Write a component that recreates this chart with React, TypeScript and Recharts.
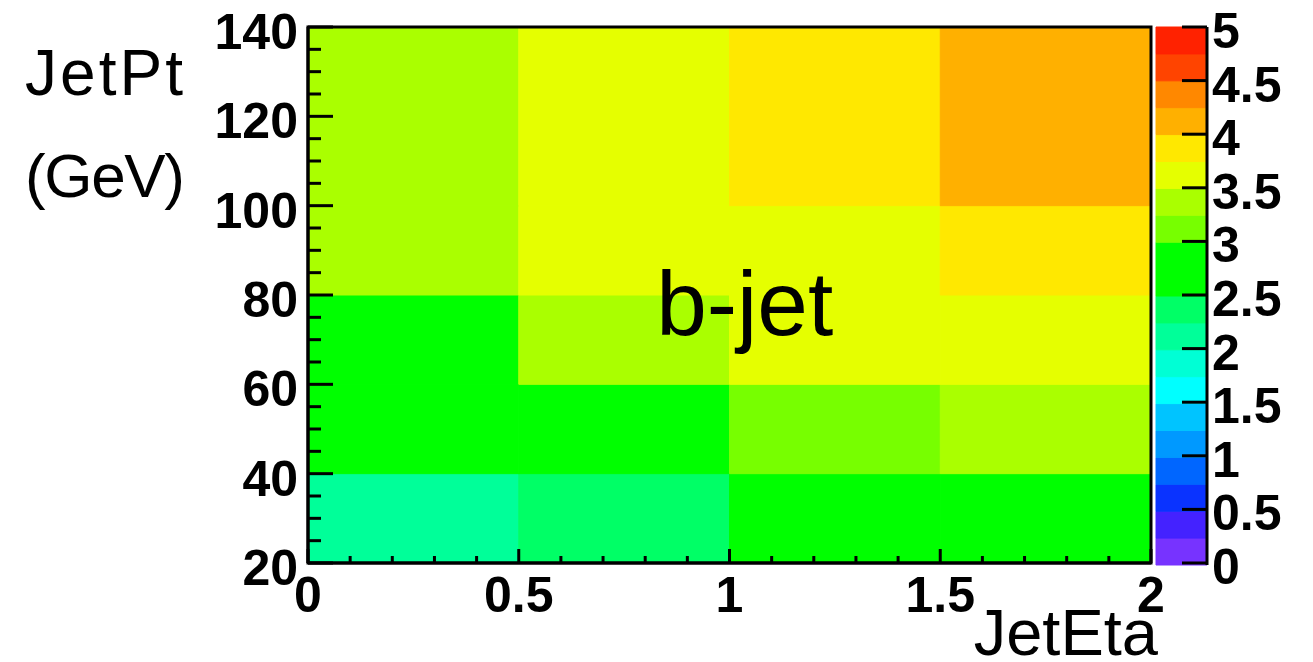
import React from 'react';
import { ComposedChart, XAxis, YAxis, ReferenceArea } from 'recharts';

// Bin edges
const etaEdges = [0, 0.5, 1, 1.5, 2];
const ptEdges = [20, 40, 60, 80, 100, 140];

// Cell values, one array per JetPt bin (columns = JetEta bins)
const pt20to40 = [2.1, 2.4, 2.8, 2.85];
const pt40to60 = [2.9, 2.9, 3.1, 3.3];
const pt60to80 = [2.8, 3.4, 3.6, 3.6];
const pt80to100 = [3.4, 3.6, 3.7, 3.9];
const pt100to140 = [3.4, 3.6, 3.9, 4.1];
const rows = [pt20to40, pt40to60, pt60to80, pt80to100, pt100to140];

// Palette (z levels of the colour bar)
const zLevels = [0, 0.25, 0.5, 0.75, 1, 1.25, 1.5, 1.75, 2, 2.25, 2.5, 2.75, 3, 3.25, 3.5, 3.75, 4, 4.25, 4.5, 4.75];
const zStep = 0.25;
const paletteColors = [
  '#7733ff', '#4422ff', '#0a33ff', '#0066ff', '#0099ff',
  '#00c4ff', '#00ffff', '#00ffd5', '#00ff99', '#00ff66',
  '#00ff00', '#00ff00', '#77ff00', '#aaff00', '#e5ff00',
  '#ffe800', '#ffb000', '#ff8800', '#ff4400', '#ff2200',
];

// Ticks
const xTicks = [0, 0.1, 0.2, 0.3, 0.4, 0.5, 0.6, 0.7, 0.8, 0.9, 1, 1.1, 1.2, 1.3, 1.4, 1.5, 1.6, 1.7, 1.8, 1.9, 2];
const xMajor = [0, 0.5, 1, 1.5, 2];
const xLabels = ['0', '0.5', '1', '1.5', '2'];
const yTicks = [20, 25, 30, 35, 40, 45, 50, 55, 60, 65, 70, 75, 80, 85, 90, 95, 100, 105, 110, 115, 120, 125, 130, 135, 140];
const yMajor = [20, 40, 60, 80, 100, 120, 140];
const zTicks = [0, 0.5, 1, 1.5, 2, 2.5, 3, 3.5, 4, 4.5, 5];
const zLabels = ['0', '0.5', '1', '1.5', '2', '2.5', '3', '3.5', '4', '4.5', '5'];

const tickFont = "'Liberation Sans', Arial, Helvetica, sans-serif";

// gap between the plot frame and the colour-bar axis, in px
const barAxisOffset = 56;

const colorFor = (v: number) => paletteColors[Math.max(0, Math.min(paletteColors.length - 1, Math.floor(v / zStep)))];

const cells = rows.flatMap((row, r) =>
  row.map((value, c) => ({
    x1: etaEdges[c],
    x2: etaEdges[c + 1],
    y1: ptEdges[r],
    y2: ptEdges[r + 1],
    value,
  }))
);

const isIn = (arr: number[], v: number) => arr.some((a) => Math.abs(a - v) < 1e-6);

const MainYTick = (props: any) => {
  const { x, y, payload } = props;
  const v = payload.value;
  const major = isIn(yMajor, v);
  return (
    <g>
      <line x1={x} x2={x + (major ? 25 : 13)} y1={y} y2={y} stroke="#000" strokeWidth={3} />
      {major && (
        <text x={x - 10} y={y + 22} textAnchor="end" fontSize={50} fontWeight="bold" fontFamily={tickFont} fill="#000">
          {String(v)}
        </text>
      )}
    </g>
  );
};

const MainXTick = (props: any) => {
  const { x, y, payload } = props;
  const v = payload.value;
  const idx = xMajor.findIndex((m) => Math.abs(m - v) < 1e-6);
  const major = idx >= 0;
  return (
    <g>
      <line x1={x} x2={x} y1={y} y2={y - (major ? 14 : 7)} stroke="#000" strokeWidth={3} />
      {major && (
        <text x={x} y={y + 49} textAnchor="middle" fontSize={50} fontWeight="bold" fontFamily={tickFont} fill="#000">
          {xLabels[idx]}
        </text>
      )}
    </g>
  );
};

const ZTick = (props: any) => {
  const { x, y, payload } = props;
  const v = payload.value;
  const idx = zTicks.findIndex((m) => Math.abs(m - v) < 1e-6);
  const ax = x + barAxisOffset;
  return (
    <g>
      <rect x={ax - 25} y={y - 1.5} width={25} height={3} fill="#000" stroke="none" />
      <text x={ax + 5} y={y + 21} textAnchor="start" fontSize={50} fontWeight="bold" fontFamily={tickFont} fill="#000">
        {zLabels[idx]}
      </text>
    </g>
  );
};

const YTitle = (props: any) => (
  <g>
    <text x={25} y={95} fontSize={64} fontFamily={tickFont} fill="#000" textLength={158} lengthAdjust="spacing">
      JetPt
    </text>
    <text x={25} y={197} fontSize={62} fontFamily={tickFont} fill="#000" textLength={160} lengthAdjust="spacing">
      (GeV)
    </text>
  </g>
);

const XTitle = (props: any) => {
  const vb = props.viewBox || { x: 308, y: 563, width: 843, height: 60 };
  return (
    <text x={vb.x + vb.width + 7} y={vb.y + 92} textAnchor="end" fontSize={65} fontFamily={tickFont} fill="#000">
      JetEta
    </text>
  );
};

const PlotText = (props: any) => {
  const vb = props.viewBox || { x: 308, y: 27, width: 843, height: 536 };
  return (
    <text x={vb.x + vb.width * 0.413} y={vb.y + vb.height * 0.575} fontSize={91} fontFamily={tickFont} fill="#000">
      b-jet
    </text>
  );
};

const barMargin = { top: 27, right: 6, bottom: 97, left: 56 };

export default function App() {
  return (
    <div style={{ position: 'absolute', left: 0, top: 0, width: 1313, height: 662, background: '#fff' }}>
      {/* colour bar: palette boxes (underneath) */}
      <div style={{ position: 'absolute', left: 1100, top: 0, zIndex: 1 }}>
        <ComposedChart width={213} height={662} margin={barMargin}>
          <XAxis type="number" dataKey="x" domain={[0, 1]} allowDataOverflow height={0} tick={false} tickLine={false} axisLine={false} />
          <YAxis
            orientation="right"
            type="number"
            dataKey="z"
            domain={[0, 5]}
            allowDataOverflow
            width={100}
            tick={false}
            tickLine={false}
            axisLine={{ stroke: '#000', strokeWidth: 3 }}
          />
          {zLevels.map((lvl, i) => (
            <ReferenceArea
              key={i}
              x1={0}
              x2={1}
              y1={lvl}
              y2={lvl + zStep}
              fill={paletteColors[i]}
              fillOpacity={1}
              stroke={paletteColors[i]}
              strokeWidth={1}
            />
          ))}
        </ComposedChart>
      </div>
      {/* main histogram, plus the colour-bar tick marks and labels, on top */}
      <div style={{ position: 'absolute', left: 0, top: 0, zIndex: 3 }}>
        <ComposedChart width={1313} height={662} margin={{ top: 27, right: 62, bottom: 39, left: 208 }}>
          <XAxis
            type="number"
            dataKey="x"
            domain={[0, 2]}
            ticks={xTicks}
            interval={0}
            allowDataOverflow
            tickSize={0}
            tickMargin={0}
            height={60}
            axisLine={{ stroke: '#000', strokeWidth: 3 }}
            tick={<MainXTick />}
            label={<XTitle />}
          />
          <YAxis
            type="number"
            dataKey="y"
            domain={[20, 140]}
            ticks={yTicks}
            interval={0}
            allowDataOverflow
            tickSize={0}
            tickMargin={0}
            width={100}
            axisLine={{ stroke: '#000', strokeWidth: 3 }}
            tick={<MainYTick />}
            label={<YTitle />}
          />
          <YAxis
            yAxisId="z"
            orientation="right"
            type="number"
            dataKey="z"
            domain={[0, 5]}
            ticks={zTicks}
            interval={0}
            allowDataOverflow
            tickSize={0}
            tickMargin={0}
            width={100}
            axisLine={false}
            tick={<ZTick />}
          />
          {cells.map((cell, i) => (
            <ReferenceArea
              key={i}
              x1={cell.x1}
              x2={cell.x2}
              y1={cell.y1}
              y2={cell.y2}
              fill={colorFor(cell.value)}
              fillOpacity={1}
              stroke={colorFor(cell.value)}
              strokeWidth={1}
            />
          ))}
          <ReferenceArea
            x1={etaEdges[0]}
            x2={etaEdges[etaEdges.length - 1]}
            y1={ptEdges[0]}
            y2={ptEdges[ptEdges.length - 1]}
            fill="none"
            fillOpacity={0}
            stroke="#000"
            strokeWidth={3}
            label={<PlotText />}
          />
        </ComposedChart>
      </div>
    </div>
  );
}
